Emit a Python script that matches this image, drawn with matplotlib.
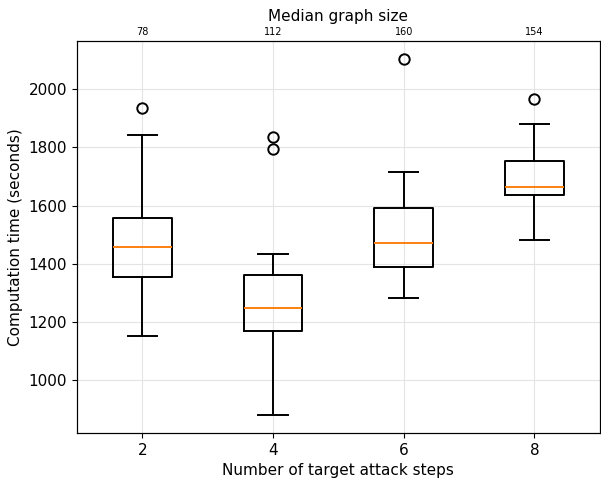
import matplotlib
matplotlib.use("Agg")
from matplotlib import pyplot as plt

steps = [2, 4, 6, 8]
graph_sizes = [78, 112, 160, 154]

# box stats (seconds)
q1 = [1354, 1167, 1389, 1637]
med = [1456, 1249, 1472, 1664]
q3 = [1558, 1360, 1592, 1753]
whislo = [1150, 880, 1281, 1482]
whishi = [1844, 1433, 1715, 1882]
fliers = [[1935], [1834, 1796], [2103], [1967]]

stats = []
for i in range(len(steps)):
    stats.append(dict(q1=q1[i], med=med[i], q3=q3[i], whislo=whislo[i],
                      whishi=whishi[i], fliers=fliers[i]))

plt.rcParams["font.size"] = 11

fig = plt.figure(figsize=(6.01, 4.79), dpi=100)
ax = fig.add_axes([0.128, 0.096, 0.87, 0.818])

lw = 1.4
ax.bxp(stats, positions=steps, widths=0.9, manage_ticks=False,
       boxprops=dict(linewidth=lw),
       whiskerprops=dict(linewidth=lw),
       capprops=dict(linewidth=lw),
       medianprops=dict(linewidth=lw, color="#ff7f0e"),
       flierprops=dict(markersize=7.5, markeredgewidth=lw))
ax.set_xlim(1, 9)
ax.set_ylim(818, 2165)
ax.set_xticks(steps)
ax.grid(True, color="#e4e4e4", linewidth=0.8)
ax.set_axisbelow(True)
ax.set_xlabel("Number of target attack steps")
ax.set_ylabel("Computation time (seconds)")

ax2 = ax.twiny()
ax2.set_xlim(ax.get_xlim())
ax2.set_xticks(steps)
ax2.set_xticklabels([str(g) for g in graph_sizes], fontsize=7)
ax2.tick_params(axis="x", length=0, pad=3)
ax2.set_xlabel("Median graph size")

fig.savefig("out.png", dpi=100)
